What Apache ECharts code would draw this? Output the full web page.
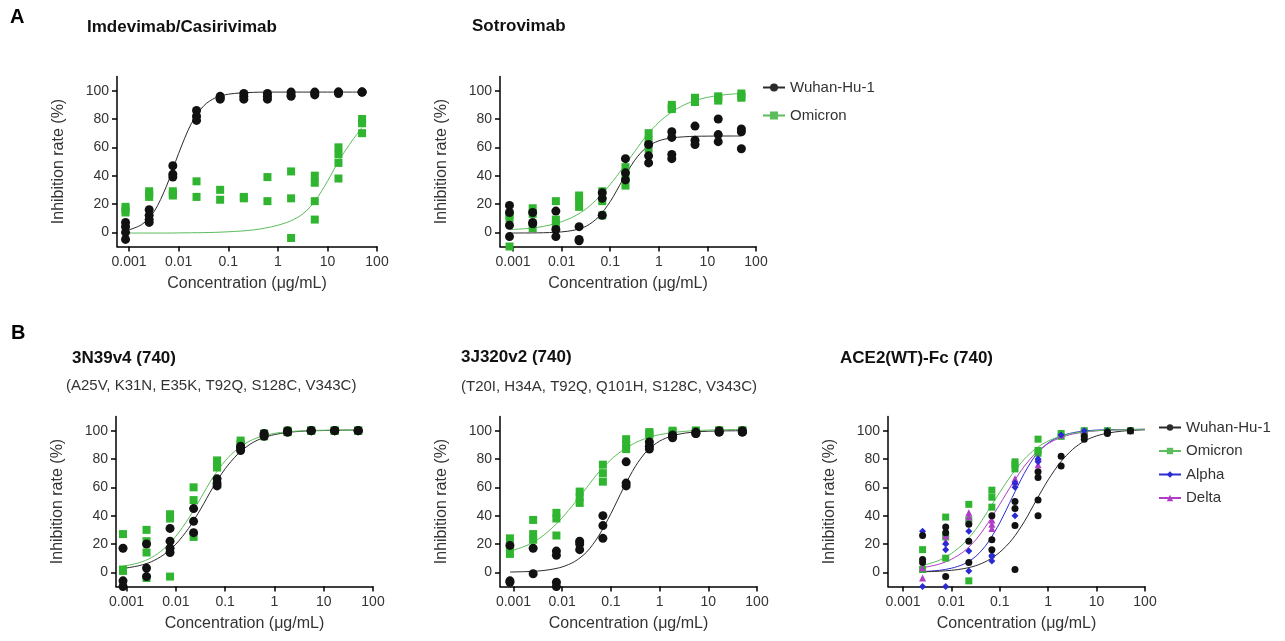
<!DOCTYPE html>
<html>
<head>
<meta charset="utf-8">
<script src="https://cdn.jsdelivr.net/npm/echarts@6/dist/echarts.min.js"></script>
<style>
  html, body { margin: 0; padding: 0; background: #fff; }
  #chart { width: 1285px; height: 641px; }
</style>
</head>
<body>
<div id="chart"></div>
<script>
// Three-fold dilution series (µg/mL)
const conc = [0.000847, 0.00254, 0.00762, 0.0229, 0.0686, 0.206, 0.617, 1.85, 5.56, 16.7, 50];
const concAce2 = [0.00254, 0.00762, 0.0229, 0.0686, 0.206, 0.617, 1.85, 5.56, 16.7, 50];

// Sampling points of the fitted dose-response curves
const fitX = [0.00085, 0.0018, 0.0032, 0.0056, 0.01, 0.018, 0.032, 0.056, 0.1, 0.18, 0.32, 0.56, 1, 1.8, 3.2, 5.6, 10, 18, 32, 50];
const fitXAce2 = [0.00254, 0.0056, 0.01, 0.018, 0.032, 0.056, 0.1, 0.18, 0.32, 0.56, 1, 1.8, 3.2, 5.6, 10, 18, 32, 56, 100];

const xTickValues = [0.001, 0.01, 0.1, 1, 10, 100];
const yTickValues = [0, 20, 40, 60, 80, 100];

// Imdevimab/Casirivimab: replicate inhibition (%) per concentration
const imdWuhan = [[7, 4, 0, -5], [16, 12, 9, 7], [47, 41, 39], [86, 82, 79], [96, 94, 95], [98, 96, 94], [98, 96, 94], [99, 97, 96], [99, 97, 98], [99, 99, 98], [99, 99, 99]];
const imdOmicron = [[18, 16, 14], [29, 27, 25], [29, 27, 26], [36, 25], [30, 23], [25, 24], [39, 22], [43, 24, -4], [40, 35, 22, 9], [60, 55, 49, 38], [80, 77, 70]];
const imdWuhanFit = [1.0, 5.5, 14.7, 32.1, 55.8, 76.8, 89.3, 95.1, 97.5, 98.4, 98.8, 99, 99, 99, 99, 99, 99, 99, 99, 99];
const imdOmicronFit = [-0.5, -0.5, -0.5, -0.5, -0.4, -0.3, -0.2, 0, 0.4, 0.9, 1.7, 3, 5, 8, 13, 22, 36, 52, 65, 74];

// Sotrovimab
const sotWuhan = [[19, 14, 5, -3], [14, 7, 6], [15, 2, -3], [4, -5, -6], [28, 24, 12], [52, 42, 37], [62, 54, 49], [71, 67, 55, 52], [75, 65, 62], [80, 69, 64], [73, 71, 59]];
const sotOmicron = [[12, 10, -10], [17, 13, 3], [22, 9, 6], [26, 23, 18], [29, 22, 12], [46, 40, 33], [70, 65, 59], [90, 87, 88], [95, 92, 93], [96, 93, 95], [98, 95, 96]];
const sotWuhanFit = [-0.5, -0.45, -0.37, -0.17, 0.32, 1.5, 4.3, 10.5, 21.7, 36.9, 50.9, 60.1, 64.6, 66.6, 67.4, 67.8, 67.9, 68, 68, 68];
const sotOmicronFit = [1.9, 2.6, 3.5, 5.1, 7.5, 11.2, 16.6, 24.1, 33.8, 45.2, 57.1, 68.3, 77.6, 84.6, 89.7, 93.0, 95.3, 96.7, 97.6, 98.0];

// 3N39v4 (740)
const n39Wuhan = [[17, -6, -10], [20, 3, -3], [31, 22, 17, 14], [45, 36, 28], [66, 63, 61], [89, 86, 88], [98, 96, 97], [99, 100, 99], [100, 100, 100], [100, 100, 100], [100, 100, 100]];
const n39Omicron = [[27, 2, 1], [30, 22, 14, -4], [41, 38, -3], [60, 51, 25], [79, 76, 74], [93, 91, 90], [97, 98, 96], [100, 99, 99], [100, 100, 100], [100, 100, 100], [100, 100, 100]];
const n39WuhanFit = [2.7, 4.7, 7.5, 12.3, 19.9, 30.9, 44.8, 59.7, 73.1, 83.4, 90.4, 94.7, 97.2, 98.7, 99.5, 99.9, 100.1, 100.3, 100.4, 100.4];
const n39OmicronFit = [4.3, 6.8, 10.4, 16.4, 25.5, 37.9, 52.4, 66.8, 78.7, 87.3, 92.8, 96.1, 98.1, 99.2, 99.8, 100.1, 100.3, 100.4, 100.4, 100.4];

// 3J320v2 (740)
const j320Wuhan = [[19, -6, -7], [17, -1], [15, 12, -7, -10], [22, 20, 16], [40, 33, 24], [78, 63, 61], [92, 89, 87], [97, 96, 95], [98, 99, 98], [100, 99, 99], [100, 99, 99]];
const j320Omicron = [[24, 18, 13], [37, 27, 23], [42, 38, 26], [57, 53, 49], [76, 70, 64], [94, 90, 87], [99, 98, 97], [99, 98, 100], [100, 99, 100], [100, 100, 100], [100, 100, 100]];
const j320WuhanFit = [0.2, 0.5, 0.9, 1.9, 3.8, 7.6, 14.4, 25.6, 41.4, 59.2, 74.9, 86.0, 92.6, 96.3, 98.2, 99.1, 99.6, 99.8, 99.9, 100];
const j320OmicronFit = [14.9, 18.7, 23.3, 29.9, 38.5, 48.9, 59.9, 70.5, 79.5, 86.5, 91.5, 94.9, 97.2, 98.6, 99.5, 100.1, 100.4, 100.6, 100.8, 100.8];

// ACE2(WT)-Fc (740)
const aceWuhan = [[26, 9, 7], [32, 28, -3], [34, 22, 7], [40, 23, 16], [50, 45, 33, 2], [71, 67, 51, 40], [82, 75], [96, 94], [98, 99], [100, 100]];
const aceOmicron = [[16, 2], [39, 25, 10], [48, 37, -6], [58, 53, 46], [78, 76, 73], [94, 86, 84], [98, 96], [100, 99], [100], [100]];
const aceAlpha = [[29, -10], [20, 16, -10], [29, 15, 1], [12, 11, 8], [63, 60, 40], [80, 78], [97], [100], [100], [100]];
const aceDelta = [[-4, 3], [26, 22], [42, 39], [37, 34, 31], [66, 64], [81, 76], [97], [100], [100], [100]];
const aceWuhanFit = [0.35, 0.8, 1.4, 2.6, 4.7, 8.3, 14.2, 23.2, 35.7, 50.5, 65.3, 77.8, 86.8, 92.7, 96.3, 98.4, 99.6, 100.2, 100.6];
const aceOmicronFit = [4.7, 8.5, 13.3, 20.4, 30.4, 42.9, 56.5, 69.3, 79.8, 87.5, 92.7, 96.0, 98.1, 99.3, 100.0, 100.4, 100.6, 100.8, 100.9];
const aceAlphaFit = [0.5, 1.4, 2.9, 5.8, 11.3, 20.7, 35.0, 52.7, 69.8, 83.0, 91.3, 96.1, 98.5, 99.8, 100.4, 100.7, 100.8, 100.9, 101];
const aceDeltaFit = [3.2, 5.8, 9.2, 14.7, 23.0, 34.4, 48.1, 62.3, 74.8, 84.4, 90.9, 95.1, 97.6, 99.0, 99.9, 100.4, 100.6, 100.8, 100.9];

const FONT = "'Liberation Sans', Arial, sans-serif";
const TEXT = '#333';
const BLACK = '#111';
const BLACK_LINE = '#2b2b2b';
const GREEN = '#2fb52f';
const GREEN_LINE = '#5bbd5b';
const BLUE = '#2b2bd2';
const PURPLE = '#b03cc8';

const grids = [
  { left: 117, top: 76.5, width: 260, height: 170 },
  { left: 500, top: 76.5, width: 256, height: 170 },
  { left: 116, top: 416.5, width: 257, height: 170 },
  { left: 500, top: 416.5, width: 257, height: 170 },
  { left: 888, top: 416.5, width: 257, height: 170 }
];
const xMins = [0.00057, 0.00054, 0.00061, 0.00053, 0.00049];

function points(xs, reps) {
  const out = [];
  reps.forEach((vals, i) => vals.forEach(v => out.push([xs[i], v])));
  return out;
}
function pairs(xs, ys) {
  return xs.map((x, i) => [x, ys[i]]);
}
function fmtConc(v) {
  return v >= 1 ? String(Math.round(v)) : String(+Number(v).toPrecision(1));
}

const xAxes = grids.map((g, i) => ({
  type: 'log', logBase: 10, gridIndex: i, min: xMins[i], max: 100,
  name: 'Concentration (μg/mL)', nameLocation: 'middle', nameGap: 29,
  nameTextStyle: { fontFamily: FONT, fontSize: 16, color: TEXT },
  axisLine: { show: true, onZero: false, lineStyle: { color: '#000', width: 1.5 } },
  axisTick: { show: true, customValues: xTickValues, length: 5, lineStyle: { color: '#000', width: 1.5 } },
  minorTick: { show: false },
  axisLabel: { customValues: xTickValues, formatter: fmtConc, fontFamily: FONT, fontSize: 14, color: TEXT, margin: 9 },
  splitLine: { show: false }
}));

const yAxes = grids.map((g, i) => ({
  type: 'value', gridIndex: i, min: -10, max: 110,
  name: 'Inhibition rate (%)', nameLocation: 'middle', nameGap: 50,
  nameTextStyle: { fontFamily: FONT, fontSize: 16, color: TEXT },
  axisLine: { show: true, onZero: false, lineStyle: { color: '#000', width: 1.5 } },
  axisTick: { show: true, customValues: yTickValues, length: 5, lineStyle: { color: '#000', width: 1.5 } },
  axisLabel: { customValues: yTickValues, fontFamily: FONT, fontSize: 14, color: TEXT, margin: 8 },
  splitLine: { show: false }
}));

function fitLine(name, grid, xs, ys, color, symbol) {
  return {
    type: 'line', name, xAxisIndex: grid, yAxisIndex: grid,
    data: pairs(xs, ys), symbol, showSymbol: false, smooth: 0.3,
    itemStyle: { color }, lineStyle: { color, width: 1 },
    z: 2, silent: true
  };
}
function dots(name, grid, xs, reps, color, symbol, size) {
  return {
    type: 'scatter', name, xAxisIndex: grid, yAxisIndex: grid,
    data: points(xs, reps), symbol, symbolSize: size,
    itemStyle: { color, opacity: 1 }, z: 3, silent: true
  };
}

const series = [
  // Imdevimab/Casirivimab
  fitLine('Wuhan-Hu-1', 0, fitX, imdWuhanFit, BLACK_LINE, 'circle'),
  fitLine('Omicron', 0, fitX, imdOmicronFit, GREEN_LINE, 'rect'),
  fitLine('Alpha', 4, fitXAce2, aceAlphaFit, BLUE, 'diamond'),
  fitLine('Delta', 4, fitXAce2, aceDeltaFit, PURPLE, 'triangle'),
  dots('Omicron', 0, conc, imdOmicron, GREEN, 'rect', 8),
  dots('Wuhan-Hu-1', 0, conc, imdWuhan, BLACK, 'circle', 9),
  // Sotrovimab
  fitLine('Wuhan-Hu-1', 1, fitX, sotWuhanFit, BLACK_LINE, 'circle'),
  fitLine('Omicron', 1, fitX, sotOmicronFit, GREEN_LINE, 'rect'),
  dots('Omicron', 1, conc, sotOmicron, GREEN, 'rect', 8),
  dots('Wuhan-Hu-1', 1, conc, sotWuhan, BLACK, 'circle', 9),
  // 3N39v4
  fitLine('Wuhan-Hu-1', 2, fitX, n39WuhanFit, BLACK_LINE, 'circle'),
  fitLine('Omicron', 2, fitX, n39OmicronFit, GREEN_LINE, 'rect'),
  dots('Omicron', 2, conc, n39Omicron, GREEN, 'rect', 8),
  dots('Wuhan-Hu-1', 2, conc, n39Wuhan, BLACK, 'circle', 9),
  // 3J320v2
  fitLine('Wuhan-Hu-1', 3, fitX, j320WuhanFit, BLACK_LINE, 'circle'),
  fitLine('Omicron', 3, fitX, j320OmicronFit, GREEN_LINE, 'rect'),
  dots('Omicron', 3, conc, j320Omicron, GREEN, 'rect', 8),
  dots('Wuhan-Hu-1', 3, conc, j320Wuhan, BLACK, 'circle', 9),
  // ACE2(WT)-Fc
  fitLine('Wuhan-Hu-1', 4, fitXAce2, aceWuhanFit, BLACK_LINE, 'circle'),
  fitLine('Omicron', 4, fitXAce2, aceOmicronFit, GREEN_LINE, 'rect'),
  dots('Omicron', 4, concAce2, aceOmicron, GREEN, 'rect', 7),
  dots('Delta', 4, concAce2, aceDelta, PURPLE, 'triangle', 7),
  dots('Alpha', 4, concAce2, aceAlpha, BLUE, 'diamond', 7),
  dots('Wuhan-Hu-1', 4, concAce2, aceWuhan, BLACK, 'circle', 7)
];

const titleBold = { fontFamily: FONT, fontSize: 17, fontWeight: 'bold', color: '#111' };
const titleSub = { fontFamily: FONT, fontSize: 15, fontWeight: 'normal', color: TEXT };
const titles = [
  { text: 'A', left: 10, top: 7, textStyle: { fontFamily: FONT, fontSize: 20, fontWeight: 'bold', color: '#000' } },
  { text: 'Imdevimab/Casirivimab', left: 87, top: 19, textStyle: titleBold },
  { text: 'Sotrovimab', left: 472, top: 18, textStyle: titleBold },
  { text: 'B', left: 11, top: 323, textStyle: { fontFamily: FONT, fontSize: 20, fontWeight: 'bold', color: '#000' } },
  { text: '3N39v4 (740)', left: 72, top: 350, textStyle: titleBold },
  { text: '(A25V, K31N, E35K, T92Q, S128C, V343C)', left: 66, top: 378, textStyle: titleSub },
  { text: '3J320v2 (740)', left: 461, top: 349, textStyle: titleBold },
  { text: '(T20I, H34A, T92Q, Q101H, S128C, V343C)', left: 461, top: 379, textStyle: titleSub },
  { text: 'ACE2(WT)-Fc (740)', left: 840, top: 350, textStyle: titleBold }
].map(t => Object.assign({ padding: 0 }, t));

const legendText = { fontFamily: FONT, fontSize: 15, color: TEXT };
const option = {
  animation: false,
  backgroundColor: '#fff',
  title: titles,
  legend: [
    {
      data: ['Wuhan-Hu-1', 'Omicron'], orient: 'vertical', left: 762, top: 80,
      itemWidth: 22, itemHeight: 10, itemGap: 13, selectedMode: false,
      textStyle: legendText, padding: 0
    },
    {
      data: ['Wuhan-Hu-1', 'Omicron', 'Alpha', 'Delta'], orient: 'vertical', left: 1158, top: 420,
      itemWidth: 22, itemHeight: 8, itemGap: 8.5, selectedMode: false,
      textStyle: legendText, padding: 0
    }
  ],
  grid: grids,
  xAxis: xAxes,
  yAxis: yAxes,
  series
};

const chart = echarts.init(document.getElementById('chart'), null, { renderer: 'canvas' });
chart.setOption(option);
</script>
</body>
</html>
